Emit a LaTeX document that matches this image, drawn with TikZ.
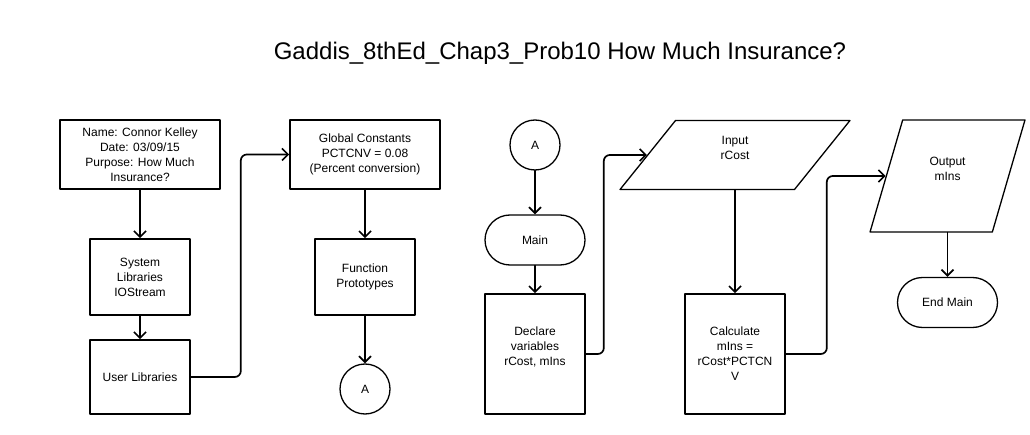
\documentclass[tikz,border=0pt]{standalone}
\usepackage{fontspec}
\setmainfont{Liberation Sans}
\usetikzlibrary{arrows.meta,shapes.geometric}

\tikzset{
  texte/.style={align=center, font=\fontsize{12}{15}\selectfont, inner sep=0pt},
  boite/.style={texte, draw, line width=1.6pt},
  rond/.style={texte, circle, draw, line width=1.3pt, minimum size=50pt},
  terminal/.style={texte, draw, line width=1.3pt, rounded corners=25pt, minimum width=100pt, minimum height=50pt},
  para/.style={trapezium, trapezium stretches=true, draw, line width=1.3pt, inner sep=2pt},
  fleche/.style={->, line width=1.7pt}
}

\begin{document}
\begin{tikzpicture}[line cap=round,line join=round,>={Straight Barb[length=6pt,width=12pt]},x=1pt,y=-1pt]
  \useasboundingbox (0,0) rectangle (1030,435);
  %titre
  \node[font=\fontsize{24}{28}\selectfont] (titre) at (560,53) {Gaddis\_8thEd\_Chap3\_Prob10 How Much Insurance?};
  %colonne gauche
  \node[boite, minimum width=160pt, minimum height=69pt] (nom) at (140,154.5) {Name: Connor Kelley\\Date: 03/09/15\\Purpose: How Much\\Insurance?};
  \node[boite, minimum width=100pt, minimum height=76pt] (syslib) at (140,277) {System\\Libraries\\IOStream};
  \node[boite, minimum width=100pt, minimum height=74pt] (userlib) at (140,377) {User Libraries};
  \node[boite, minimum width=150pt, minimum height=69pt] (glob) at (365,154.5) {Global Constants\\PCTCNV = 0.08\\(Percent conversion)};
  \node[boite, minimum width=100pt, minimum height=76pt] (proto) at (365,277) {Function\\Prototypes};
  \node[rond] (conA) at (365,389) {A};
  %main
  \node[rond] (conB) at (535,145) {A};
  \node[terminal] (main) at (535,240) {Main};
  \node[boite, minimum width=100pt, minimum height=120pt] (decl) at (535,354) {};
  \node[texte] (decltxt) at ([yshift=7pt]decl.center) {Declare\\variables\\rCost, mIns};
  \node[para, trapezium left angle=65, trapezium right angle=115, minimum width=230pt, minimum height=69pt] (inp) at (735,155) {};
  \node[texte] (inptxt) at ([yshift=7pt]inp.center) {Input\\rCost};
  \node[boite, minimum width=100pt, minimum height=120pt] (calc) at (735,354) {Calculate\\mIns =\\rCost*PCTCN\\V};
  \node[para, trapezium left angle=70, trapezium right angle=110, minimum width=155pt, minimum height=112pt] (outp) at (947.5,176) {};
  \node[texte] (outptxt) at ([yshift=7.5pt]outp.center) {Output\\mIns};
  \node[terminal] (fin) at (947.5,302.5) {End Main};
  %fleches
  \draw[fleche] (nom) -- (syslib);
  \draw[fleche] (syslib) -- (userlib);
  \draw[fleche, rounded corners=6pt] (userlib.east) -- ++(50,0) |- (glob.west);
  \draw[fleche] (glob) -- (proto);
  \draw[fleche] (proto) -- (conA);
  \draw[fleche] (conB) -- (main);
  \draw[fleche] (main) -- (decl);
  \draw[fleche, rounded corners=6pt] (decl.east) -- ++(18,0) |- (inp.west);
  \draw[fleche] (inp.center |- inp.south) -- (calc);
  \draw[fleche, rounded corners=6pt] (calc.east) -- ++(41,0) |- (outp.west);
  \draw[fleche] (outp.center |- outp.south) -- (fin);
\end{tikzpicture}
\end{document}
